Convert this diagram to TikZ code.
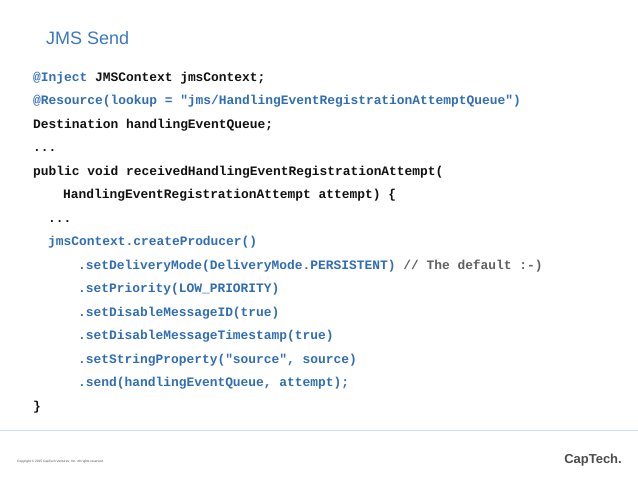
\documentclass[tikz,border=0pt]{standalone}
\usepackage{fontspec}
\setmainfont{Liberation Sans}
\newfontfamily\codefont{Liberation Mono}
\definecolor{kw}{HTML}{2F6DB5}
\definecolor{ttl}{HTML}{3C78C0}
\definecolor{cmt}{HTML}{606060}
\definecolor{txt}{HTML}{111111}
\tikzset{code/.style={anchor=base west,inner sep=0pt,font=\codefont\bfseries\fontsize{12.9}{14}\selectfont,text=txt}}
\begin{document}
\begin{tikzpicture}[x=1pt,y=-1pt]
\useasboundingbox (0,0) rectangle (638,479);
\node[anchor=base west,inner sep=0pt,font=\fontsize{18}{20}\selectfont,text=ttl] (title) at (46,45) {JMS Send};
\node[code] (l1) at (33,81) {\textcolor{kw}{@Inject} JMSContext jmsContext;};
\node[code,text=kw] (l2) at (33,104.5) {@Resource(lookup = "jms/HandlingEventRegistrationAttemptQueue")};
\node[code] (l3) at (33,128) {Destination handlingEventQueue;};
\node[code] (l4) at (33,151.5) {...};
\node[code] (l5) at (33,175) {public void receivedHandlingEventRegistrationAttempt(};
\node[code] (l6) at (63,198.5) {HandlingEventRegistrationAttempt attempt) \{};
\node[code] (l7) at (48,222) {...};
\node[code,text=kw] (l8) at (48,245.5) {jmsContext.createProducer()};
\node[code,text=kw] (l9) at (78,269) {.setDeliveryMode(DeliveryMode.PERSISTENT) \textcolor{cmt}{// The default :-)}};
\node[code,text=kw] (l10) at (78,292.5) {.setPriority(LOW\_PRIORITY)};
\node[code,text=kw] (l11) at (78,316) {.setDisableMessageID(true)};
\node[code,text=kw] (l12) at (78,339.5) {.setDisableMessageTimestamp(true)};
\node[code,text=kw] (l13) at (78,363) {.setStringProperty("source", source)};
\node[code,text=kw] (l14) at (78,386.5) {.send(handlingEventQueue, attempt);};
\node[code] (l15) at (33,410) {\}};
\draw[color=ttl!25,line width=0.8pt] (0,430.5) -- (638,430.5);
\node[anchor=base west,inner sep=0pt,font=\fontsize{3.2}{4}\selectfont,text=black!70] (copy) at (17,462) {Copyright © 2015 CapTech Ventures, Inc. All rights reserved.};
\node[anchor=base east,inner sep=0pt,font=\bfseries\fontsize{13}{14}\selectfont,text=black!70] (logo) at (622,463) {CapTech.};
\end{tikzpicture}
\end{document}
